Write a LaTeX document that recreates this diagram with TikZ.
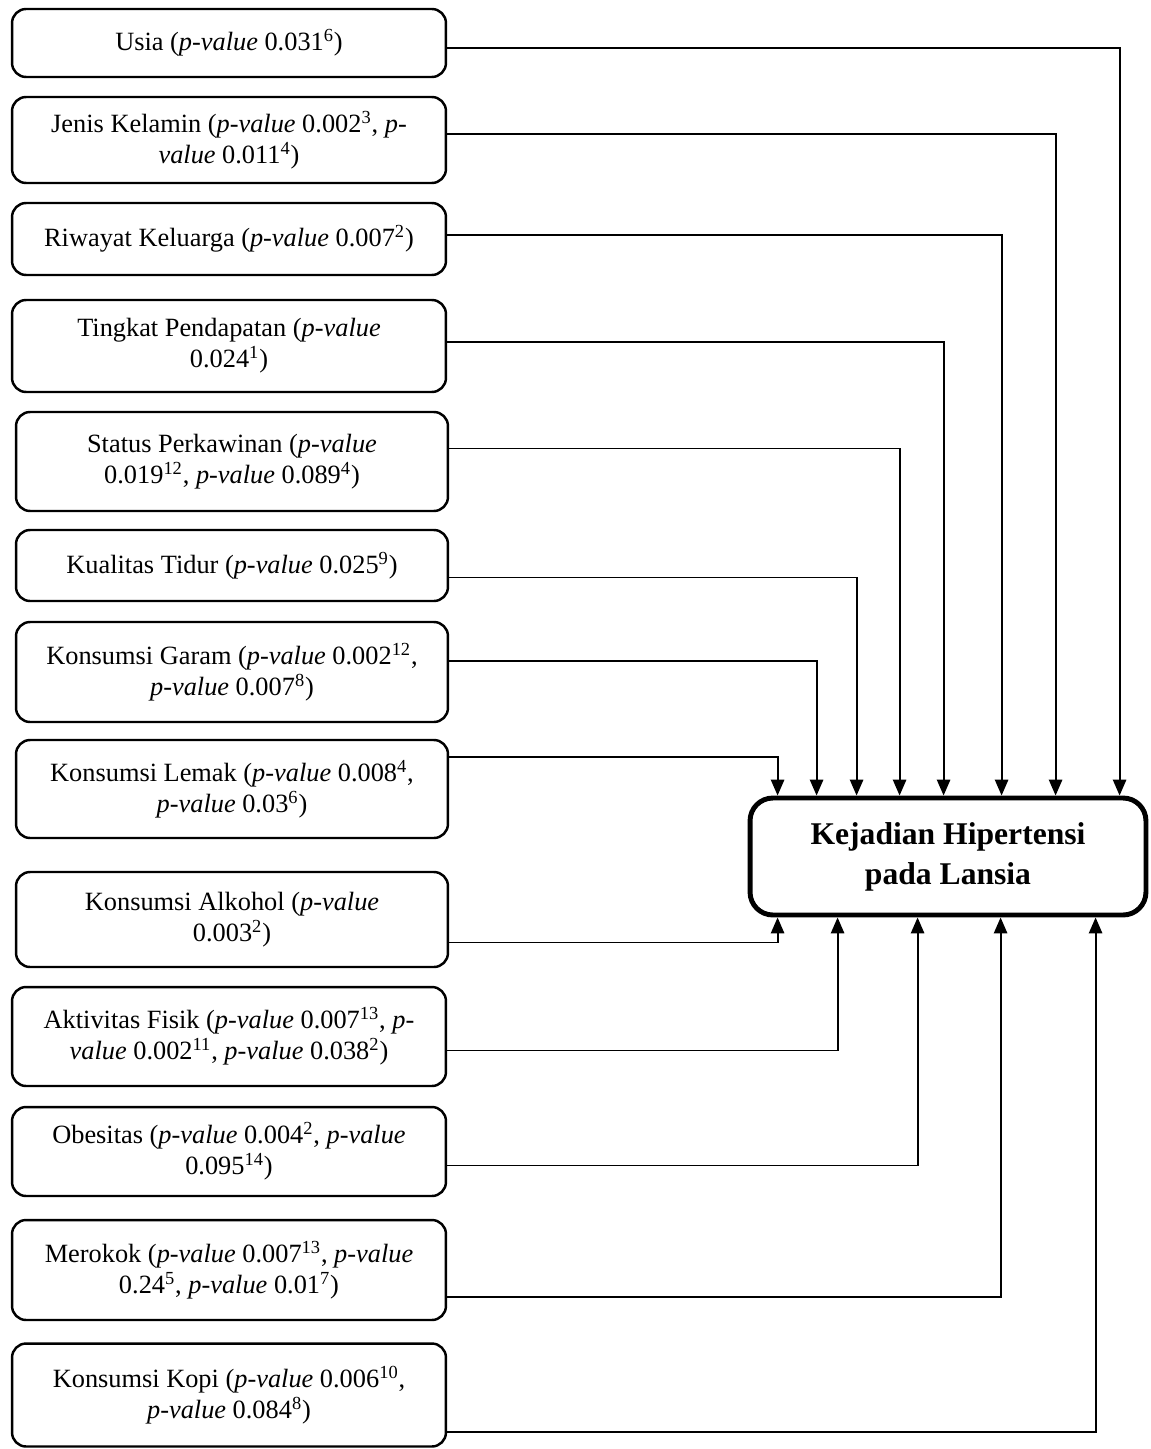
\documentclass[tikz,border=0pt]{standalone}
\usepackage{fontspec}
\setmainfont{Liberation Serif}
\usepackage{tikz}
\usetikzlibrary{arrows.meta, positioning, calc}

\newcommand{\pv}{\textit{p-value}}
\newcommand{\up}[1]{\textsuperscript{#1}}

\begin{document}
\begin{tikzpicture}[x=0.02cm, y=-0.02cm,
    factor/.style={draw, line width=1.4pt, rounded corners=8pt, align=center,
      inner sep=0pt, font=\fontsize{15}{17.6}\selectfont},
    outcome/.style={draw, line width=2.8pt, rounded corners=13pt, align=center,
      inner sep=0pt, minimum width=7.92cm, minimum height=2.34cm,
      font=\fontsize{18}{22.7}\selectfont\bfseries},
    link/.style={line width=1.1pt, -{Triangle[length=9pt, width=7.5pt]}}]
  \useasboundingbox (0,0) rectangle (1150,1449);
  % Factors
  \node[factor, minimum width=8.68cm, minimum height=1.36cm] (usia) at (229,43) {Usia (\pv{} 0.031\up{6})};
  \node[factor, minimum width=8.68cm, minimum height=1.72cm] (jenis) at (229,140) {Jenis Kelamin (\pv{} 0.002\up{3}, \textit{p-}\\\textit{value} 0.011\up{4})};
  \node[factor, minimum width=8.68cm, minimum height=1.44cm] (riwayat) at (229,239) {Riwayat Keluarga (\pv{} 0.007\up{2})};
  \node[factor, minimum width=8.68cm, minimum height=1.84cm] (tingkat) at (229,346) {Tingkat Pendapatan (\pv{}\\0.024\up{1})};
  \node[factor, minimum width=8.64cm, minimum height=1.98cm] (status) at (232,461.5) {Status Perkawinan (\pv{}\\0.019\up{12}, \pv{} 0.089\up{4})};
  \node[factor, minimum width=8.64cm, minimum height=1.42cm] (tidur) at (232,565.5) {Kualitas Tidur (\pv{} 0.025\up{9})};
  \node[factor, minimum width=8.64cm, minimum height=2.0cm] (garam) at (232,672) {Konsumsi Garam (\pv{} 0.002\up{12},\\\pv{} 0.007\up{8})};
  \node[factor, minimum width=8.64cm, minimum height=1.96cm] (lemak) at (232,789) {Konsumsi Lemak (\pv{} 0.008\up{4},\\\pv{} 0.03\up{6})};
  \node[factor, minimum width=8.64cm, minimum height=1.9cm] (alkohol) at (232,919.5) {Konsumsi Alkohol (\pv{}\\0.003\up{2})};
  \node[factor, minimum width=8.68cm, minimum height=1.98cm] (fisik) at (229,1036.5) {Aktivitas Fisik (\pv{} 0.007\up{13}, \textit{p-}\\\textit{value} 0.002\up{11}, \pv{} 0.038\up{2})};
  \node[factor, minimum width=8.68cm, minimum height=1.78cm] (obesitas) at (229,1151.5) {Obesitas (\pv{} 0.004\up{2}, \pv{}\\0.095\up{14})};
  \node[factor, minimum width=8.68cm, minimum height=2.0cm] (merokok) at (229,1270) {Merokok (\pv{} 0.007\up{13}, \pv{}\\0.24\up{5}, \pv{} 0.01\up{7})};
  \node[factor, minimum width=8.68cm, minimum height=2.06cm] (kopi) at (229,1395) {Konsumsi Kopi (\pv{} 0.006\up{10},\\\pv{} 0.084\up{8})};
  % Outcome
  \node[outcome] (hipertensi) at (948,856.5) {Kejadian Hipertensi\\pada Lansia};
  % Links into the top
  \draw[link] ($(usia.east)+(0,5)$) -| ($(hipertensi.north west)+(372,0)$);
  \draw[link] ($(jenis.east)+(0,-6)$) -| ($(hipertensi.north west)+(308,0)$);
  \draw[link] ($(riwayat.east)+(0,-4)$) -| ($(hipertensi.north west)+(254,0)$);
  \draw[link] ($(tingkat.east)+(0,-4)$) -| ($(hipertensi.north west)+(196,0)$);
  \draw[link] ($(status.east)+(0,-13)$) -| ($(hipertensi.north west)+(152,0)$);
  \draw[link] ($(tidur.east)+(0,12)$) -| ($(hipertensi.north west)+(109,0)$);
  \draw[link] ($(garam.east)+(0,-11)$) -| ($(hipertensi.north west)+(69,0)$);
  \draw[link] ($(lemak.east)+(0,-32)$) -| ($(hipertensi.north west)+(30,0)$);
  % Links into the bottom
  \draw[link] ($(alkohol.east)+(0,23)$) -| ($(hipertensi.south west)+(30,0)$);
  \draw[link] ($(fisik.east)+(0,14)$) -| ($(hipertensi.south west)+(90,0)$);
  \draw[link] ($(obesitas.east)+(0,14)$) -| ($(hipertensi.south west)+(170,0)$);
  \draw[link] ($(merokok.east)+(0,27)$) -| ($(hipertensi.south west)+(253,0)$);
  \draw[link] ($(kopi.east)+(0,37)$) -| ($(hipertensi.south west)+(348,0)$);
\end{tikzpicture}
\end{document}
